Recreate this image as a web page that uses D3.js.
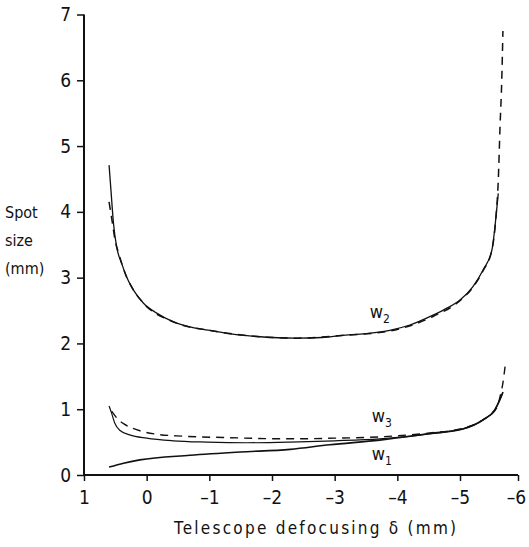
<!DOCTYPE html>
<html>
<head>
<meta charset="utf-8">
<script src="https://cdn.jsdelivr.net/npm/d3@7"></script>
<style>
  html, body { margin: 0; padding: 0; background: #fff; }
  svg { display: block; }
  text { font-family: "DejaVu Sans Condensed", "Liberation Sans Narrow", "DejaVu Sans", sans-serif; fill: #111; }
</style>
</head>
<body>
<svg id="chart" width="529" height="547"></svg>
<script>
// ---- data ----
const xTicks = [1, 0, -1, -2, -3, -4, -5, -6];
const yTicks = [0, 1, 2, 3, 4, 5, 6, 7];

// w2, solid
const w2Delta = [0.60, 0.57, 0.53, 0.48, 0.40, 0.32, 0.21, 0.05, -0.16, -0.42, -0.74, -1.06, -1.30, -1.70, -2.00, -2.40, -2.80, -3.10, -3.50, -3.88, -4.20, -4.57, -4.80, -5.00, -5.22, -5.40, -5.55, -5.62, -5.66];
const w2Value = [4.71, 4.33, 3.83, 3.47, 3.22, 3.01, 2.81, 2.61, 2.46, 2.33, 2.24, 2.19, 2.15, 2.11, 2.09, 2.08, 2.09, 2.12, 2.15, 2.20, 2.28, 2.43, 2.54, 2.66, 2.86, 3.12, 3.42, 3.92, 4.28];
// w2, dashed
const w2dDelta = [0.60, 0.55, 0.50, 0.45, 0.40, 0.32, 0.21, 0.05, -0.42, -1.06, -1.70, -2.40, -3.10, -3.88, -4.57, -5.00, -5.22, -5.40, -5.55, -5.62, -5.66, -5.69, -5.72, -5.74];
const w2dValue = [4.15, 3.85, 3.55, 3.38, 3.22, 3.01, 2.81, 2.61, 2.33, 2.19, 2.11, 2.08, 2.12, 2.19, 2.41, 2.65, 2.85, 3.11, 3.42, 3.92, 4.48, 5.29, 6.00, 6.75];

// w3, solid
const w3Delta = [0.60, 0.56, 0.51, 0.43, 0.27, 0.00, -0.42, -0.96, -1.60, -2.29, -3.00, -3.72, -4.30, -4.80, -5.05, -5.40, -5.60, -5.69, -5.74];
const w3Value = [1.05, 0.94, 0.79, 0.68, 0.61, 0.56, 0.52, 0.50, 0.49, 0.50, 0.52, 0.55, 0.60, 0.66, 0.70, 0.84, 0.99, 1.15, 1.26];
// w3, dashed
const w3dDelta = [0.56, 0.45, 0.35, 0.10, -0.16, -0.58, -1.22, -2.29, -3.00, -3.72, -4.52, -5.05, -5.40, -5.64, -5.69, -5.74, -5.78];
const w3dValue = [0.97, 0.84, 0.77, 0.67, 0.62, 0.59, 0.57, 0.55, 0.56, 0.58, 0.64, 0.71, 0.84, 1.03, 1.19, 1.40, 1.67];

// w1, solid
const w1Delta = [0.60, 0.37, 0.11, -0.69, -1.49, -2.29, -2.92, -3.72, -4.52, -5.05, -5.40, -5.60, -5.69, -5.74];
const w1Value = [0.12, 0.18, 0.23, 0.30, 0.35, 0.39, 0.46, 0.53, 0.63, 0.70, 0.84, 0.99, 1.15, 1.26];

const curveLabels = [
  { name: "w", sub: "2", delta: -3.56, value: 2.39 },
  { name: "w", sub: "3", delta: -3.59, value: 0.81 },
  { name: "w", sub: "1", delta: -3.59, value: 0.23 }
];

// ---- drawing ----
const svg = d3.select("#chart");

// hand-drawn axis is slightly compressed at its far end
const x = d3.scaleLinear().domain([1, -5, -6]).range([84, 460, 518]);
const y = d3.scaleLinear().domain([0, 7]).range([475, 14.5]);

const zip = (a, b) => a.map((d, i) => [d, b[i]]);
const line = d3.line().x(d => x(d[0])).y(d => y(d[1])).curve(d3.curveMonotoneX);

// axes
const xAxis = d3.axisBottom(x).tickValues(xTicks).tickSize(6).tickPadding(10)
  .tickFormat(d => d > 0 ? String(d) : (d === 0 ? "0" : "\u2013" + Math.abs(d)));
const yAxis = d3.axisLeft(y).tickValues(yTicks).tickSize(7).tickPadding(6).tickFormat(d3.format("d"));

const gx = svg.append("g").attr("transform", `translate(0,${y(0)})`).call(xAxis);
const gy = svg.append("g").attr("transform", `translate(${x(1)},0)`).call(yAxis);

[gx, gy].forEach(g => {
  g.select(".domain").attr("stroke", "#111").attr("stroke-width", 2);
  g.selectAll(".tick line").attr("stroke", "#111").attr("stroke-width", 1.5);
  g.selectAll(".tick text").attr("font-size", 19).attr("fill", "#111")
    .style("font-family", '"DejaVu Sans Condensed", "Liberation Sans Narrow", sans-serif');
});
// keep the last label inside the picture
gx.selectAll(".tick text").filter(d => d === -6).attr("dx", -2);
// remove outer tick stubs of the domain path
gx.select(".domain").attr("d", `M${x(1)},0H${x(-6)}`);
gy.select(".domain").attr("d", `M0,${y(0)}V${y(7)}`);

// curves
const drawLine = (data, dashed, width) => svg.append("path")
  .datum(data)
  .attr("fill", "none")
  .attr("stroke", "#111")
  .attr("stroke-width", width)
  .attr("stroke-dasharray", dashed ? "8,6" : null)
  .attr("d", line);

drawLine(zip(w2dDelta, w2dValue), true, 1.5);
drawLine(zip(w2Delta, w2Value), false, 1.3);
drawLine(zip(w3dDelta, w3dValue), true, 1.4);
drawLine(zip(w3Delta, w3Value), false, 1.2);
drawLine(zip(w1Delta, w1Value), false, 1.6);

// curve labels
curveLabels.forEach(l => {
  const t = svg.append("text").attr("x", x(l.delta)).attr("y", y(l.value)).attr("font-size", 18);
  t.append("tspan").text(l.name);
  t.append("tspan").attr("font-size", 12).attr("dy", 5).text(l.sub);
});

// axis titles
svg.append("text").attr("x", 315).attr("y", 534).attr("text-anchor", "middle")
  .attr("font-size", 17).attr("textLength", 282).attr("lengthAdjust", "spacing")
  .text("Telescope defocusing \u03b4 (mm)");

const yTitle = ["Spot", "size", "(mm)"];
yTitle.forEach((s, i) => {
  svg.append("text").attr("x", 5).attr("y", 218 + i * 28).attr("font-size", 16).text(s);
});
</script>
</body>
</html>
